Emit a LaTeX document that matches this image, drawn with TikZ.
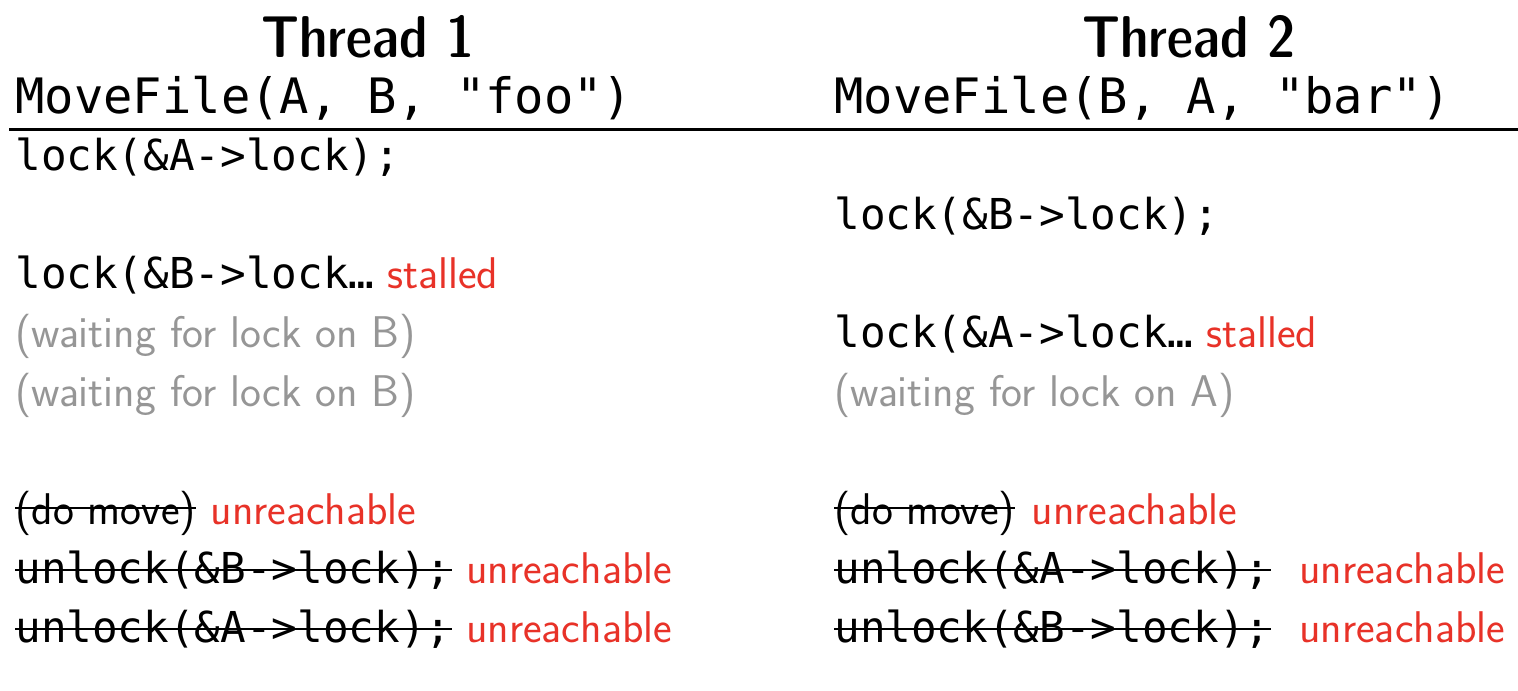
\documentclass[tikz,border=0pt]{standalone}
\usepackage{fontspec}
\setmonofont{DejaVu Sans Mono}
\newfontfamily\headfont{lmsansdemicond10-regular.otf}
\usetikzlibrary{positioning}
\definecolor{stallred}{RGB}{232,50,40}
\definecolor{waitgray}{RGB}{150,150,150}

\begin{document}
\begin{tikzpicture}[x=0.5pt, y=-0.5pt,
		every node/.style={inner sep=0pt, anchor=base west},
		head/.style={anchor=base, font=\headfont\fontsize{29.5}{34}\selectfont},
		call/.style={font=\ttfamily\fontsize{24.4}{30}\selectfont},
		code/.style={font=\ttfamily\fontsize{21.3}{25}\selectfont},
		prose/.style={font=\sffamily\fontsize{22.2}{26}\selectfont},
		wait/.style={prose, text=waitgray},
		warn/.style={prose, text=stallred},
		strike/.style={line width=1pt}]
			\useasboundingbox (0,0) rectangle (1518,690);
			\node [head] (T1) at (368,58) {Thread 1};
			\node [head] (T2) at (1189,58) {Thread 2};
			\node [call] (M1) at (15,113) {MoveFile(A, B, "foo")};
			\node [call] (M2) at (834,113) {MoveFile(B, A, "bar")};
			\coordinate (ruleL) at (9,129);
			\coordinate (ruleR) at (1518,129);
			\draw [line width=1.5pt] (ruleL) -- (ruleR);
			%
			\node [code] (a1) at (15,170) {lock(\&A->lock);};
			\node [code] (a2) at (15,288) {lock(\&B->lock…};
			\node [wait] (a3) at (15,347) {(waiting for lock on B)};
			\node [wait] (a4) at (15,406) {(waiting for lock on B)};
			\node [prose] (a5) at (15,524) {(do move)};
			\node [code] (a6) at (15,583) {unlock(\&B->lock);};
			\node [code] (a7) at (15,642) {unlock(\&A->lock);};
			%
			\node [code] (b1) at (834,229) {lock(\&B->lock);};
			\node [code] (b2) at (834,347) {lock(\&A->lock…};
			\node [wait] (b3) at (834,406) {(waiting for lock on A)};
			\node [prose] (b5) at (834,524) {(do move)};
			\node [code] (b6) at (834,583) {unlock(\&A->lock);};
			\node [code] (b7) at (834,642) {unlock(\&B->lock);};
			%
			\node [warn, right=6pt of a2.base east, anchor=base west] (a2s) {stalled};
			\node [warn, right=6pt of b2.base east, anchor=base west] (b2s) {stalled};
			\foreach \n/\g in {a5/7pt,a6/7pt,a7/7pt,b5/8pt,b6/14pt,b7/14pt}{
					\node [warn, right=\g of \n.base east, anchor=base west] (\n u) {unreachable};
				}
			\foreach \n/\h in {a5/8pt,b5/8pt,a6/6.5pt,a7/6.5pt,b6/6.5pt,b7/6.5pt}{
					\draw [strike] ([yshift=\h]\n.base west) -- ([yshift=\h]\n.base east);
				}
		\end{tikzpicture}
\end{document}
